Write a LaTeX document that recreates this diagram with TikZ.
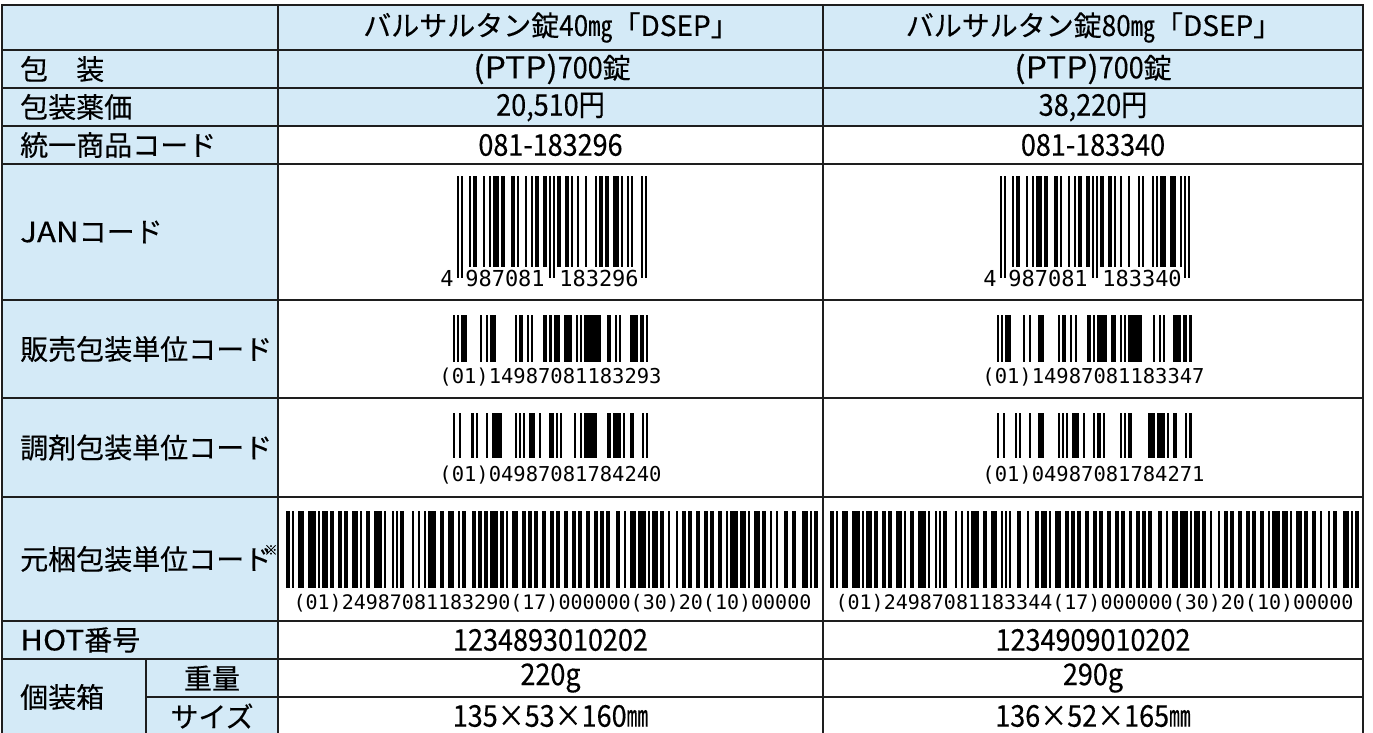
\documentclass[tikz,border=0pt]{standalone}
\usepackage{fontspec}
\setmainfont{Noto Sans CJK JP}[FakeBold=0.3]
\newfontfamily\narrowjp[FakeStretch=0.87,FakeBold=0.3]{Noto Sans CJK JP}
\newfontfamily\slimjp[FakeStretch=0.72,FakeBold=0.3]{Noto Sans CJK JP}
\newfontfamily\valjp[FakeStretch=0.9,FakeBold=0.3]{Noto Sans CJK JP}
\newfontfamily\latwide[FakeStretch=1.12,FakeBold=0.3]{Noto Sans CJK JP}
\newfontfamily\ocrfont{DejaVu Sans Mono}
\definecolor{cellblue}{RGB}{212,234,247}
\definecolor{gridline}{RGB}{30,30,30}
\newcommand\jpn{\normalfont\fontsize{28}{30}\selectfont}

\ExplSyntaxOn
\int_new:N \l__bc_pos_int
\int_new:N \l__bc_start_int
\bool_new:N \l__bc_bar_bool
\cs_new_protected:Npn \BarWidths #1
  {
    \int_zero:N \l__bc_pos_int
    \bool_set_true:N \l__bc_bar_bool
    \tl_map_inline:nn {#1}
      {
        \bool_if:NT \l__bc_bar_bool
          { \exp_args:Nxx \BcRect { \int_use:N \l__bc_pos_int } { ##1 } }
        \int_add:Nn \l__bc_pos_int { ##1 }
        \bool_set_inverse:N \l__bc_bar_bool
      }
  }
\cs_new_protected:Npn \BarBits #1
  {
    \int_zero:N \l__bc_pos_int
    \int_set:Nn \l__bc_start_int { -1 }
    \tl_map_inline:nn { #1 0 }
      {
        \int_compare:nNnTF { ##1 } = { 1 }
          {
            \int_compare:nNnT { \l__bc_start_int } < { 0 }
              { \int_set_eq:NN \l__bc_start_int \l__bc_pos_int }
          }
          {
            \int_compare:nNnF { \l__bc_start_int } < { 0 }
              {
                \exp_args:Nxx \BcRect { \int_use:N \l__bc_start_int }
                  { \int_eval:n { \l__bc_pos_int - \l__bc_start_int } }
                \int_set:Nn \l__bc_start_int { -1 }
              }
          }
        \int_incr:N \l__bc_pos_int
      }
  }
\ExplSyntaxOff
\newcommand\BcRect[2]{\fill[black] (#1,0) rectangle ++(#2,1);}

\begin{document}
\begin{tikzpicture}[x=1pt,y=-1pt,
  lbl/.style={font=\jpn, anchor=west, inner sep=0pt},
  lblc/.style={font=\jpn, anchor=center, inner sep=0pt},
  head/.style={font=\jpn, anchor=center, inner sep=0pt},
  val/.style={font=\valjp\fontsize{30}{32}\selectfont, anchor=center, inner sep=0pt},
  hr/.style={font=\ocrfont\fontsize{20.5}{21}\selectfont, anchor=base, inner sep=0pt},
  hrlong/.style={font=\ocrfont\fontsize{20}{21}\selectfont, anchor=base, inner sep=0pt},
  eandig/.style={font=\ocrfont\fontsize{22}{23}\selectfont, anchor=base, inner sep=0pt},
  gridthin/.style={draw=gridline, line width=1.4pt},
  gridouter/.style={draw=gridline, line width=2.6pt}]
\useasboundingbox (0,0) rectangle (1373,733);

% cell fills
\fill[cellblue] (2,5) rectangle (278,740);
\fill[cellblue] (278,5) rectangle (1363,126);

% header
\node[head] (h1) at (551,27.5) {バルサルタン錠{\valjp\fontsize{29}{30}\selectfont 40}{\narrowjp ㎎}「DSEP」};
\node[head] (h2) at (1093.5,27.5) {バルサルタン錠{\valjp\fontsize{29}{30}\selectfont 80}{\narrowjp ㎎}「DSEP」};

% labels
\node[lbl] (l1) at (20,69) {包　装};
\node[lbl] (l2) at (20,107) {包装薬価};
\node[lbl] (l3) at (20,145) {統一商品コード};
\node[lbl] (l4) at (20,232) {{\latwide JAN}コード};
\node[lbl] (l5) at (20,349) {販売包装単位コード};
\node[lbl] (l6) at (20,447.5) {調剤包装単位コード};
\node[lbl] (l7) at (20,559) {元梱包装単位コード};
\node[font=\normalfont\fontsize{13}{13}\selectfont, inner sep=0pt] (l7m) at (271,550) {※};
\node[lbl] (l8) at (20,640) {{\latwide HOT}番号};
\node[lbl] (l9) at (20,697) {個装箱};
\node[lblc] (l10) at (212,678) {重量};
\node[lblc] (l11) at (212,716) {サイズ};

% values
\node[val] (a1) at (552,69) {{\latwide (PTP)}700{\jpn 錠}};
\node[val] (b1) at (1093,69) {{\latwide (PTP)}700{\jpn 錠}};
\node[val] (a2) at (550.5,107) {20,510{\narrowjp 円}};
\node[val] (b2) at (1093,107) {38,220{\narrowjp 円}};
\node[val] (a3) at (550.5,145) {081-183296};
\node[val] (b3) at (1093,145) {081-183340};
\node[val] (a8) at (550.5,640) {1234893010202};
\node[val] (b8) at (1093,640) {1234909010202};
\node[val] (a9) at (550.5,678) {220g};
\node[val] (b9) at (1093,678) {290g};
\node[val] (a10) at (550.5,716) {135×53×160{\slimjp ㎜}};
\node[val] (b10) at (1093,716) {136×52×165{\slimjp ㎜}};

% ---- JAN (EAN-13) col 1: 4987081183296
\begin{scope}[shift={(457,176)},x=2pt,y=-91pt]
\BarBits{101 0001011 0001001 0111011 0001101 0001001 0110011 01010 1100110 1001000 1000010 1101100 1110100 1010000 101}
\end{scope}
\begin{scope}[shift={(457,176)},x=2pt,y=-102pt]\BarBits{101}\end{scope}
\begin{scope}[shift={(547,176)},x=2pt,y=-102pt]\BarBits{01010}\end{scope}
\begin{scope}[shift={(641,176)},x=2pt,y=-102pt]\BarBits{101}\end{scope}
\node[eandig] (ja0) at (447,286) {4};
\node[eandig] (ja1) at (505,286) {987081};
\node[eandig] (ja2) at (599,286) {183296};

% ---- JAN col 2: 4987081183340
\begin{scope}[shift={(1000,176)},x=2pt,y=-91pt]
\BarBits{101 0001011 0001001 0111011 0001101 0001001 0110011 01010 1100110 1001000 1000010 1000010 1011100 1110010 101}
\end{scope}
\begin{scope}[shift={(1000,176)},x=2pt,y=-102pt]\BarBits{101}\end{scope}
\begin{scope}[shift={(1090,176)},x=2pt,y=-102pt]\BarBits{01010}\end{scope}
\begin{scope}[shift={(1184,176)},x=2pt,y=-102pt]\BarBits{101}\end{scope}
\node[eandig] (jb0) at (990,286) {4};
\node[eandig] (jb1) at (1048,286) {987081};
\node[eandig] (jb2) at (1142,286) {183340};

% ---- GS1 DataBar (販売包装単位)
\begin{scope}[shift={(453,315)},x=2.0526pt,y=-47pt]
\BarWidths{1 11136121 13911 22111521 11324211 11832 21114412 11}
\end{scope}
\node[hr] (sa) at (550.5,383) {(01)14987081183293};
\begin{scope}[shift={(996.5,315)},x=2.0526pt,y=-47pt]
\BarWidths{1 11136121 33711 22111521 11522211 11751 21114412 11}
\end{scope}
\node[hr] (sb) at (1093.5,383) {(01)14987081183347};

% ---- GS1 DataBar (調剤包装単位)
\begin{scope}[shift={(453,413)},x=2.0526pt,y=-45pt]
\BarWidths{1 21511141 25611 11123214 21111612 11652 14112241 11}
\end{scope}
\node[hr] (ta) at (550.5,481) {(01)04987081784240};
\begin{scope}[shift={(996.5,413)},x=2.0526pt,y=-45pt]
\BarWidths{1 21511141 33711 11123214 11211711 11283 14112241 11}
\end{scope}
\node[hr] (tb) at (1093.5,481) {(01)04987081784271};

% ---- GS1-128 (元梱包装単位)
\begin{scope}[shift={(286,511)},x=2pt,y=-77pt]
\BarWidths{211232 411131 222122 311222 411311 112412 121142 223211 232121 214121 123221 212222 212222 212222 212123 221231 411131 221312 212222 212222 114131 123122 121322 2331112}
\end{scope}
\node[hrlong] (ga) at (552.5,609) {(01)24987081183290(17)000000(30)20(10)00000};
\begin{scope}[shift={(830,511)},x=1.99pt,y=-77pt]
\BarWidths{211232 411131 222122 311222 411311 112412 121142 223211 111323 132131 123221 212222 212222 212222 212123 221231 411131 221312 212222 212222 114131 123122 221312 2331112}
\end{scope}
\node[hrlong] (gb) at (1094.5,609) {(01)24987081183344(17)000000(30)20(10)00000};

% ---- grid
\foreach \yy in {50,88,126,164,300,398,497,621,659}
  \draw[gridthin] (2,\yy) -- (1363,\yy);
\draw[gridthin] (146,697) -- (1363,697);
\draw[gridthin] (278,5) -- (278,745);
\draw[gridthin] (823,5) -- (823,745);
\draw[gridthin] (146,659) -- (146,745);
\draw[gridouter] (2,745) -- (2,5) -- (1363,5) -- (1363,745);
\end{tikzpicture}
\end{document}
